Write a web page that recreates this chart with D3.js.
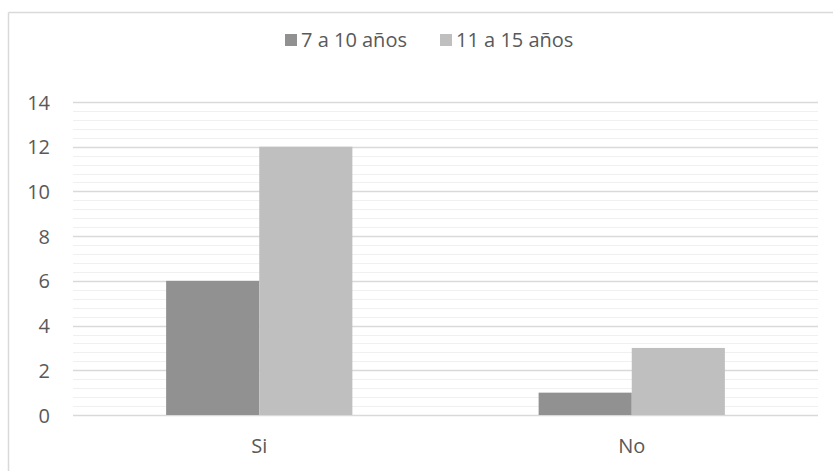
<!DOCTYPE html>
<html><head><meta charset="utf-8">
<script src="https://cdn.jsdelivr.net/npm/d3@7"></script>
<style>body{margin:0;background:#fff}svg{display:block}</style>
</head><body>
<script>
const categories = ["Si", "No"];
const seriesNames = ["7 a 10 años", "11 a 15 años"];
const serie1 = [6, 1];
const serie2 = [12, 3];
const yTicks = [0, 2, 4, 6, 8, 10, 12, 14];
const colors = ["#919191", "#bfbfbf"];

const W = 833, H = 471;
const font = "'Open Sans', sans-serif";
const svg = d3.select("body").append("svg").attr("width", W).attr("height", H);

// chart border (top + left visible)
svg.append("line").attr("x1", 8.5).attr("x2", W).attr("y1", 12.5).attr("y2", 12.5).attr("stroke", "#d9d9d9").attr("stroke-width", 1.5);
svg.append("line").attr("x1", 8.5).attr("x2", 8.5).attr("y1", 12.5).attr("y2", H).attr("stroke", "#d9d9d9").attr("stroke-width", 1.5);

const pLeft = 73, pRight = 818, pTop = 102, pBottom = 415;
const x = d3.scaleBand().domain(categories).range([pLeft, pRight]);
const y = d3.scaleLinear().domain([0, 14]).range([pBottom, pTop]);

// minor gridlines
const minor = d3.range(0, 14.001, 0.4).filter(v => Math.abs(v / 2 - Math.round(v / 2)) > 1e-6);
svg.append("g").selectAll("line").data(minor).join("line")
  .attr("x1", pLeft).attr("x2", pRight)
  .attr("y1", d => Math.round(y(d)) + 0.5).attr("y2", d => Math.round(y(d)) + 0.5)
  .attr("stroke", "#f0f0f0").attr("stroke-width", 1.2);

// major gridlines
svg.append("g").selectAll("line").data(yTicks).join("line")
  .attr("x1", pLeft).attr("x2", pRight)
  .attr("y1", d => Math.round(y(d)) + 0.5).attr("y2", d => Math.round(y(d)) + 0.5)
  .attr("stroke", "#d9d9d9").attr("stroke-width", 1.3);

// y axis labels
const yAxis = d3.axisLeft(y).tickValues(yTicks).tickSize(0).tickPadding(0);
const gy = svg.append("g").attr("transform", `translate(50,0)`).call(yAxis);
gy.select(".domain").remove();
gy.selectAll("text").attr("font-family", font).attr("font-size", 20).attr("fill", "#595959").attr("dy", "0.35em");

// bars
const inner = d3.scaleBand().domain([0, 1]).range([0, x.bandwidth()]).paddingOuter(1.0).paddingInner(0);
const data = categories.map((c, i) => ({ c, vals: [serie1[i], serie2[i]] }));
const g = svg.append("g").selectAll("g").data(data).join("g").attr("transform", d => `translate(${x(d.c)},0)`);
g.selectAll("rect").data(d => d.vals.map((v, k) => ({ v, k }))).join("rect")
  .attr("x", d => inner(d.k)).attr("width", inner.bandwidth())
  .attr("y", d => y(d.v)).attr("height", d => y(0) - y(d.v))
  .attr("fill", d => colors[d.k]);

// category labels
const xAxis = d3.axisBottom(x).tickSize(0).tickPadding(0);
const gx = svg.append("g").attr("transform", `translate(0,${pBottom})`).call(xAxis);
gx.select(".domain").remove();
gx.selectAll("text").attr("font-family", font).attr("font-size", 20).attr("fill", "#595959").attr("y", 38).attr("dy", 0);

// legend
const legendItems = [{ x: 285, name: seriesNames[0], c: colors[0] }, { x: 440, name: seriesNames[1], c: colors[1] }];
const lg = svg.append("g").selectAll("g").data(legendItems).join("g").attr("transform", d => `translate(${d.x},0)`);
lg.append("rect").attr("x", 0).attr("y", 34).attr("width", 12).attr("height", 12).attr("fill", d => d.c);
lg.append("text").attr("x", 16).attr("y", 47).text(d => d.name)
  .attr("font-family", font).attr("font-size", 20).attr("fill", "#595959");
</script>
</body></html>
